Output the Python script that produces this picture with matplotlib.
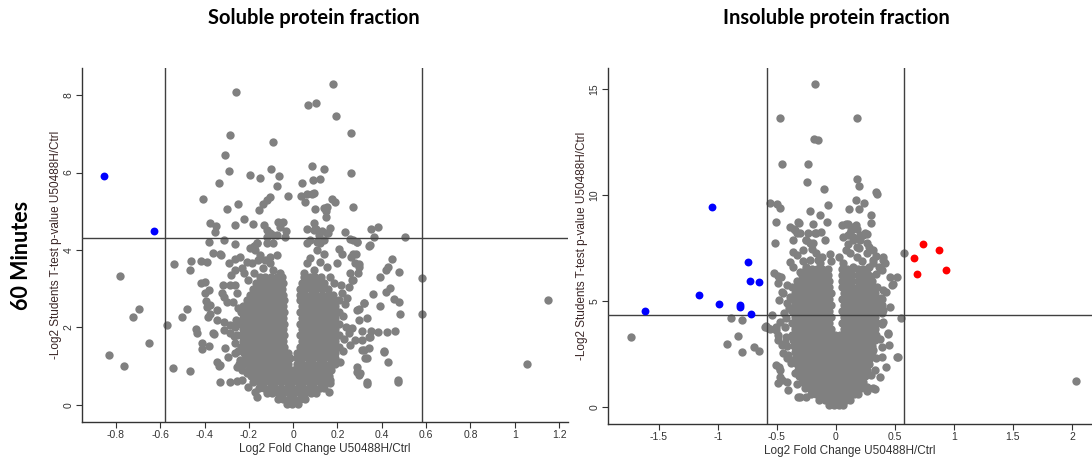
import matplotlib
matplotlib.use("Agg")
import matplotlib.pyplot as plt

# ---------------- data ----------------
# soluble fraction: dense core, rows of (y, x values)
sl_a = [-0.15, -0.125, -0.10, -0.075, -0.05]
sl_b = [-0.17, -0.145, -0.12, -0.095, -0.07, -0.045]
sl_c = [-0.18, -0.155, -0.13, -0.105, -0.08, -0.05]
sl_d = [-0.195, -0.17, -0.145, -0.12, -0.095, -0.07, -0.045]
sl_e = [-0.21, -0.185, -0.16, -0.135, -0.11, -0.085, -0.06, -0.04]
sl_f = [-0.225, -0.2, -0.175, -0.15, -0.125, -0.1, -0.075, -0.045]
sl_g = [-0.235, -0.21, -0.185, -0.16, -0.135, -0.11, -0.085, -0.06, -0.04]
sl_h = [-0.22, -0.195, -0.17, -0.145, -0.12, -0.095, -0.07, -0.045, -0.025]
sl_i = [-0.215, -0.19, -0.165, -0.14, -0.115, -0.09, -0.065, -0.04, -0.015]
sr_a = [0.05, 0.075, 0.10, 0.125]
sr_b = [0.04, 0.065, 0.09, 0.115, 0.14]
sr_c = [0.03, 0.055, 0.08, 0.105, 0.13, 0.155]
sr_d = [0.03, 0.055, 0.08, 0.105, 0.13, 0.155, 0.18]
sr_e = [0.03, 0.055, 0.08, 0.105, 0.13, 0.155, 0.18, 0.205]
sr_f = [0.04, 0.065, 0.09, 0.115, 0.14, 0.165, 0.19]
sr_g = [0.015, 0.04, 0.065, 0.09, 0.115, 0.14, 0.165, 0.19]
sm_a = [-0.2, -0.175, -0.15, -0.125, -0.1, -0.075, -0.05, -0.025, 0.0, 0.025, 0.05, 0.075, 0.1, 0.125, 0.15, 0.17]
sm_b = [-0.19, -0.165, -0.14, -0.115, -0.09, -0.065, -0.04, -0.015, 0.01, 0.035, 0.06, 0.085, 0.11, 0.135, 0.16]
sm_c = [-0.18, -0.155, -0.13, -0.105, -0.08, -0.055, -0.03, -0.005, 0.02, 0.045, 0.07, 0.095, 0.12, 0.145]
sm_d = [-0.155, -0.13, -0.105, -0.08, -0.055, -0.03, -0.005, 0.02, 0.045, 0.07, 0.095, 0.12, 0.14]
sm_e = [-0.12, -0.095, -0.07, -0.045, -0.02, 0.005, 0.03, 0.055, 0.08, 0.105]
sm_f = [-0.07, -0.045, -0.02, 0.005, 0.03, 0.055]
sm_g = [-0.03, -0.005, 0.02]

soluble_core = [
    (3.30, sl_a + sr_a), (3.15, sl_b + sr_b), (3.00, sl_c + sr_c), (2.85, sl_d + sr_d),
    (2.70, sl_e + sr_e), (2.55, sl_f + sr_f), (2.40, sl_g + sr_e), (2.25, sl_f + sr_f),
    (2.10, sl_g + sr_e), (1.95, sl_f + sr_f), (1.80, sl_g + sr_e), (1.65, sl_f + sr_f),
    (1.50, sl_g + sr_e), (1.35, sl_h + sr_g), (1.20, sl_i + sr_g), (1.05, sl_h + sr_g),
    (0.90, sm_a), (0.75, sm_b), (0.60, sm_c), (0.45, sm_d), (0.30, sm_e), (0.15, sm_f), (0.03, sm_g),
]

soluble_grey = [
    (-0.256, 8.07), (0.181, 8.29), (0.068, 7.75), (0.102, 7.80), (0.194, 7.45), (0.259, 7.03), (-0.286, 6.98),
    (-0.093, 6.78), (-0.307, 6.45), (-0.290, 6.03), (-0.333, 5.73), (-0.408, 5.33), (-0.194, 5.93), (-0.152, 5.87),
    (-0.098, 6.08), (-0.063, 5.90), (-0.072, 5.65), (-0.024, 5.40), (0.086, 6.18), (0.137, 6.10), (0.089, 5.81),
    (0.119, 5.83), (0.042, 5.73), (0.259, 5.98), (0.035, 5.40), (0.062, 5.44), (0.084, 5.45), (0.092, 5.46),
    (0.054, 5.25), (0.176, 5.31), (0.187, 5.25), (-0.298, 5.06), (-0.251, 5.18), (-0.155, 5.03), (-0.134, 5.20),
    (-0.119, 5.29), (-0.104, 5.36), (0.098, 5.06), (0.137, 5.09), (0.152, 5.12), (0.149, 5.01), (0.146, 4.86),
    (0.272, 5.11), (-0.220, 4.81), (-0.376, 4.71), (-0.349, 4.62), (-0.352, 4.46), (-0.263, 4.64), (-0.181, 4.68),
    (-0.132, 4.65), (-0.119, 4.52), (-0.104, 4.43), (-0.089, 4.39), (-0.074, 4.38), (-0.068, 4.73), (-0.048, 4.72),
    (-0.059, 4.60), (-0.033, 4.50), (0.062, 4.53), (0.096, 4.69), (0.102, 4.53), (0.132, 4.49), (0.164, 4.57),
    (0.158, 4.43), (0.233, 4.46), (0.351, 4.53), (0.381, 4.59), (0.363, 4.34), (0.504, 4.33), (-0.381, 4.21),
    (-0.311, 4.26), (-0.263, 4.16), (-0.179, 4.10), (-0.164, 4.17), (-0.119, 4.19), (-0.089, 4.17), (0.077, 4.26),
    (0.107, 4.21), (0.122, 4.17), (0.257, 4.28), (0.288, 4.21), (0.343, 4.11),
    (-0.781, 3.33), (-0.695, 2.49), (-0.721, 2.26), (-0.652, 1.59), (-0.831, 1.29), (-0.762, 1.00), (-0.569, 2.06),
    (-0.543, 0.95), (-0.465, 0.87), (-0.536, 3.64), (-0.462, 3.71), (-0.465, 3.48), (-0.418, 3.71), (-0.390, 3.69),
    (-0.415, 3.16), (-0.397, 3.17), (-0.378, 2.96), (-0.480, 2.47), (-0.500, 2.26), (-0.438, 1.97), (-0.435, 1.85),
    (-0.411, 1.59), (-0.411, 1.45), (-0.378, 1.51), (-0.360, 1.87), (-0.330, 3.91), (-0.397, 2.88), (-0.390, 2.54),
    (-0.375, 2.36), (-0.336, 1.00), (-0.330, 0.58), (-0.284, 0.58),
    (0.581, 3.29), (0.580, 2.34), (1.148, 2.72), (1.054, 1.07), (0.445, 3.76), (0.426, 3.55), (0.420, 3.48),
    (0.477, 3.44), (0.393, 3.31), (0.435, 3.01), (0.417, 2.92), (0.360, 2.86), (0.390, 2.55), (0.453, 2.73),
    (0.477, 2.67), (0.480, 2.36), (0.321, 2.64), (0.297, 2.49), (0.460, 1.92), (0.423, 1.89), (0.385, 1.89),
    (0.352, 1.92), (0.340, 1.76), (0.411, 1.39), (0.429, 1.12), (0.334, 1.21), (0.340, 1.46), (0.309, 1.42),
    (0.290, 0.86), (0.297, 0.77), (0.334, 0.53), (0.471, 0.58), (0.163, 0.34), (0.167, 0.56), (0.298, 3.65),
    (0.283, 3.91), (0.262, 3.83), (0.208, 4.02), (0.221, 3.91), (0.348, 4.12), (0.290, 4.22), (0.269, 4.27),
    (0.292, 3.40), (0.264, 3.23), (0.253, 3.05),
    (-0.360, 3.93), (-0.325, 3.86), (-0.288, 3.66), (-0.262, 3.76), (-0.239, 3.83), (-0.209, 3.70), (-0.186, 3.66),
    (-0.161, 3.74), (-0.281, 3.35), (-0.262, 3.48), (-0.232, 3.53), (-0.224, 3.40), (-0.315, 3.10), (-0.285, 3.10),
    (-0.262, 3.10), (-0.392, 2.68), (-0.374, 2.58), (-0.344, 2.45), (-0.322, 2.88), (-0.314, 2.80), (-0.299, 2.67),
    (-0.385, 2.28), (-0.344, 2.19), (-0.314, 2.15), (-0.284, 2.06), (-0.262, 2.02), (-0.356, 1.83), (-0.314, 1.94),
    (-0.284, 1.85), (-0.269, 1.77), (-0.262, 1.59), (-0.307, 1.46), (-0.344, 1.12), (-0.329, 1.03), (-0.292, 1.25),
    (-0.262, 1.33), (-0.239, 1.16), (-0.254, 0.99), (-0.232, 0.90), (-0.209, 0.82), (-0.254, 0.63), (-0.232, 0.65),
    (-0.202, 0.47), (-0.172, 0.34), (-0.164, 0.21),
    (-0.164, 4.17), (-0.172, 4.00), (-0.149, 3.87), (-0.126, 3.74), (-0.104, 3.83), (-0.074, 3.87), (-0.104, 3.66),
    (-0.134, 3.53), (-0.089, 3.48), (-0.059, 3.40), (-0.194, 4.04), (-0.119, 4.34), (-0.036, 4.34), (-0.179, 3.40),
    (-0.202, 3.23), (0.092, 4.52), (0.115, 4.39), (0.137, 4.26), (0.152, 4.43), (0.062, 4.17), (0.107, 4.00),
    (0.137, 3.91), (0.077, 3.79), (0.122, 3.70), (0.152, 3.57), (0.092, 3.48), (0.062, 3.66), (0.167, 3.31),
    (0.197, 3.66), (0.182, 3.14), (0.047, 3.40),
    (0.269, 3.90), (0.280, 3.66), (0.295, 3.57), (0.257, 3.41), (0.272, 3.23), (0.318, 2.62), (0.288, 2.45),
    (0.295, 2.19), (0.333, 2.24), (0.265, 1.99), (0.310, 1.92), (0.348, 1.75), (0.310, 1.67), (0.280, 1.67),
    (0.257, 1.55), (0.318, 1.42), (0.325, 1.20), (0.408, 1.38), (0.288, 0.99), (0.303, 0.82), (0.333, 0.60),
    (0.474, 0.64), (0.167, 0.64),
    (0.22, 2.9), (0.235, 2.6), (0.225, 2.3), (0.24, 2.0), (0.23, 1.7), (0.225, 1.4), (0.21, 1.1), (0.245, 2.75),
    (0.25, 1.85), (0.215, 3.1), (-0.255, 2.9), (-0.25, 2.5), (-0.26, 2.2), (-0.255, 1.8), (-0.25, 1.4),
    (-0.245, 1.05), (-0.27, 2.65),
]
soluble_down = [(-0.852, 5.90), (-0.630, 4.48)]

# insoluble fraction: dense core rows
il_a = [-0.25, -0.205, -0.16, -0.115, -0.07]
il_b = [-0.29, -0.245, -0.2, -0.155, -0.11, -0.065]
il_c = [-0.33, -0.285, -0.24, -0.195, -0.15, -0.105, -0.06]
il_d = [-0.37, -0.325, -0.28, -0.235, -0.19, -0.145, -0.1, -0.055]
il_e = [-0.35, -0.305, -0.26, -0.215, -0.17, -0.125, -0.08, -0.045]
ir_a = [0.05, 0.095, 0.14, 0.185, 0.23, 0.26]
ir_b = [0.05, 0.095, 0.14, 0.185, 0.23, 0.275]
ir_c = [0.05, 0.095, 0.14, 0.185, 0.23, 0.275, 0.31]
ir_d = [0.05, 0.095, 0.14, 0.185, 0.23, 0.275, 0.32, 0.35]
ir_e = [0.07, 0.115, 0.16, 0.205, 0.25, 0.295, 0.335]

insoluble_core = [
    (6.50, il_a + ir_a), (6.22, il_b + ir_b), (5.94, il_c + ir_c), (5.66, il_d + ir_d),
    (5.38, il_e + ir_e), (5.10, il_d + ir_d), (4.82, il_e + ir_e), (4.54, il_d + ir_d),
    (4.26, il_e + ir_e), (3.98, il_d + ir_d), (3.70, il_e + ir_e),
    (3.42, [-0.37, -0.325, -0.28, -0.235, -0.19, -0.145, -0.1, -0.055, -0.01, 0.035, 0.08, 0.125, 0.17, 0.215, 0.26, 0.305, 0.34]),
    (3.14, [-0.36, -0.315, -0.27, -0.225, -0.18, -0.135, -0.09, -0.045, 0.0, 0.045, 0.09, 0.135, 0.18, 0.225, 0.27, 0.315, 0.335]),
    (2.86, [-0.355, -0.31, -0.265, -0.22, -0.175, -0.13, -0.085, -0.04, 0.005, 0.05, 0.095, 0.14, 0.185, 0.23, 0.275, 0.31]),
    (2.58, [-0.35, -0.305, -0.26, -0.215, -0.17, -0.125, -0.08, -0.035, 0.01, 0.055, 0.1, 0.145, 0.19, 0.235, 0.28, 0.305]),
    (2.30, [-0.34, -0.295, -0.25, -0.205, -0.16, -0.115, -0.07, -0.025, 0.02, 0.065, 0.11, 0.155, 0.2, 0.245, 0.29]),
    (2.02, [-0.33, -0.285, -0.24, -0.195, -0.15, -0.105, -0.06, -0.015, 0.03, 0.075, 0.12, 0.165, 0.21, 0.255, 0.28]),
    (1.74, [-0.32, -0.275, -0.23, -0.185, -0.14, -0.095, -0.05, -0.005, 0.04, 0.085, 0.13, 0.175, 0.22, 0.26]),
    (1.46, [-0.31, -0.265, -0.22, -0.175, -0.13, -0.085, -0.04, 0.005, 0.05, 0.095, 0.14, 0.185, 0.23, 0.25]),
    (1.18, [-0.29, -0.245, -0.2, -0.155, -0.11, -0.065, -0.02, 0.025, 0.07, 0.115, 0.16, 0.205, 0.23]),
    (0.90, [-0.26, -0.215, -0.17, -0.125, -0.08, -0.035, 0.01, 0.055, 0.1, 0.145, 0.19, 0.21]),
    (0.62, [-0.21, -0.165, -0.12, -0.075, -0.03, 0.015, 0.06, 0.105, 0.15, 0.19]),
    (0.34, [-0.14, -0.095, -0.05, -0.005, 0.04, 0.085, 0.12]),
    (0.08, [-0.06, -0.015, 0.03, 0.06]),
]

insoluble_grey = [
    (-1.735, 3.30), (-0.887, 4.21), (-0.791, 4.12), (-0.831, 3.33), (-0.918, 2.97), (-0.797, 2.59), (-0.692, 2.81),
    (-0.650, 2.66), (-0.593, 3.84), (-0.554, 3.69), (-0.542, 4.35), (-0.469, 13.65), (-0.455, 11.45), (-0.554, 9.61),
    (-0.497, 9.58), (-0.475, 9.37), (-0.503, 8.74), (-0.514, 7.72), (-0.523, 6.31), (-0.489, 6.18), (-0.464, 6.12),
    (-0.489, 5.83), (-0.460, 5.44), (-0.480, 5.05), (-0.390, 8.51), (-0.347, 8.35), (-0.322, 8.74), (-0.367, 7.88),
    (-0.362, 7.33), (-0.390, 6.85), (-0.418, 4.89), (-0.390, 4.66), (-0.441, 4.42), (-0.475, 4.02), (-0.508, 3.79),
    (-0.489, 3.40), (-0.503, 1.98), (-0.460, 1.27), (-0.305, 0.49), (-0.249, 0.49), (-0.404, 2.45), (-0.362, 2.22),
    (-0.475, 1.75),
    (-0.178, 15.24), (-0.237, 11.49), (-0.189, 12.64), (-0.155, 12.59), (-0.243, 10.63), (-0.099, 10.27),
    (-0.215, 9.26), (-0.136, 9.06), (-0.192, 8.66), (-0.164, 8.19), (-0.249, 7.88), (-0.220, 7.72),
    (0.175, 13.62), (0.175, 10.74), (0.192, 10.42), (0.336, 10.16), (0.345, 10.05), (-0.065, 9.53), (-0.074, 8.74),
    (0.172, 9.76), (0.237, 9.61), (0.113, 9.34), (0.197, 9.34), (0.297, 9.06), (0.297, 8.69), (-0.314, 8.69),
    (-0.356, 8.38), (-0.325, 8.19), (0.048, 8.58), (0.105, 8.63), (0.169, 8.58), (0.175, 8.38), (0.119, 8.19),
    (0.232, 8.11), (0.260, 8.16), (-0.234, 8.19), (-0.178, 8.19), (-0.122, 8.27),
    (0.090, 8.63), (0.147, 8.51), (0.125, 8.35), (0.102, 8.11), (0.147, 8.03), (0.203, 7.88), (0.175, 7.56),
    (0.282, 7.56), (0.339, 7.14), (0.401, 7.09), (0.316, 6.93), (0.415, 6.78), (0.367, 6.62), (0.458, 6.15),
    (0.514, 6.15), (0.480, 5.80), (0.429, 5.44), (0.381, 5.13), (0.387, 4.81), (0.458, 4.73), (0.551, 4.18),
    (0.401, 4.02), (0.443, 3.44), (0.452, 2.92), (0.387, 2.84), (0.514, 2.37), (0.528, 2.37), (0.424, 1.90),
    (0.373, 1.43), (0.331, 0.85), (0.576, 7.28), (2.034, 1.24),
    (-0.395, 4.65), (-0.412, 5.75), (-0.446, 5.36), (-0.305, 5.60), (-0.333, 4.97), (-0.390, 5.20), (-0.602, 3.79),
    (-0.573, 3.71), (-0.508, 3.63), (-0.489, 3.16), (-0.460, 2.92), (-0.446, 2.53), (-0.412, 2.30), (-0.483, 1.90),
    (-0.475, 1.43), (-0.418, 1.20), (-0.489, 1.12), (-0.319, 0.49), (-0.403, 0.80),
    (0.472, 5.75), (0.387, 5.12), (0.373, 4.81), (0.387, 4.42), (0.444, 3.47), (0.387, 2.37), (0.316, 2.68),
    (0.331, 1.74), (0.316, 0.88), (0.260, 0.96),
    (-0.305, 8.19), (-0.249, 7.88), (-0.192, 7.72), (-0.277, 7.40), (-0.164, 7.25), (-0.220, 6.93), (-0.136, 6.78),
    (-0.093, 7.88), (-0.079, 6.46), (-0.333, 7.17), (-0.362, 6.62), (0.062, 8.03), (0.147, 7.88), (0.203, 8.11),
    (0.246, 8.19), (0.090, 7.40), (0.175, 7.09), (0.260, 7.25), (0.316, 6.78), (0.387, 6.46), (0.147, 6.62),
    (0.062, 6.78), (0.260, 7.72), (0.316, 7.40), (0.401, 6.93),
    (-0.12, 7.1), (-0.2, 7.45), (-0.28, 6.9), (-0.15, 6.95), (-0.05, 7.2), (-0.04, 6.9), (0.03, 7.1), (0.12, 7.25),
    (0.22, 6.9), (0.28, 6.6), (0.2, 7.5), (0.1, 7.7), (-0.25, 6.6), (-0.3, 6.35), (0.34, 6.3), (0.29, 6.2),
    (-0.42, 4.2), (-0.43, 3.8), (-0.42, 3.3), (-0.41, 2.9), (-0.38, 2.1), (-0.35, 1.6), (-0.33, 1.1), (-0.43, 3.0),
    (0.40, 5.5), (0.40, 4.6), (0.39, 3.9), (0.37, 3.2), (0.34, 2.3), (0.30, 1.5), (0.26, 0.75),
]
insoluble_down = [(-1.051, 9.42), (-0.748, 6.83), (-0.729, 5.94), (-0.655, 5.91), (-1.158, 5.27),
                  (-0.986, 4.84), (-0.814, 4.80), (-0.814, 4.70), (-0.715, 4.39), (-1.616, 4.55)]
insoluble_up = [(0.740, 7.69), (0.875, 7.41), (0.664, 7.04), (0.935, 6.46), (0.689, 6.29)]

fc_cut = 0.58
p_cut = 4.32
titles = ["Soluble protein fraction", "Insoluble protein fraction"]
xlabel = "Log2 Fold Change U50488H/Ctrl"
ylabel = "-Log2 Students T-test p-value U50488H/Ctrl"
row_label = "60 Minutes"

# ---------------- plotting ----------------
plt.rcParams["font.family"] = ["Liberation Sans", "DejaVu Sans"]

fig = plt.figure(figsize=(10.92, 4.59), dpi=100)
ax1 = fig.add_axes([0.0751, 0.0806, 0.4450, 0.7713])
ax2 = fig.add_axes([0.5568, 0.0763, 0.4432, 0.7756])

grey = "#808080"
ink = "#333333"
msize = 36


def unpack(rows):
    xs, ys = [], []
    for y, row in rows:
        xs += row
        ys += [y] * len(row)
    return xs, ys


def draw(ax, core, grey_pts, down, up, xlim, ylim, xticks, xticklabels, yticks):
    cx, cy = unpack(core)
    ax.scatter(cx, cy, s=msize, color=grey, linewidths=0, zorder=2)
    ax.scatter([p[0] for p in grey_pts], [p[1] for p in grey_pts], s=msize, color=grey, linewidths=0, zorder=2)
    if down:
        ax.scatter([p[0] for p in down], [p[1] for p in down], s=32, color="#0000ff", linewidths=0, zorder=4)
    if up:
        ax.scatter([p[0] for p in up], [p[1] for p in up], s=32, color="#ff0000", linewidths=0, zorder=4)
    ax.axvline(-fc_cut, color="#404040", lw=1.0, zorder=3)
    ax.axvline(fc_cut, color="#404040", lw=1.0, zorder=3)
    ax.axhline(p_cut, color="#404040", lw=1.0, zorder=3)
    ax.set_xlim(*xlim)
    ax.set_ylim(*ylim)
    ax.set_xticks(xticks)
    ax.set_xticklabels(xticklabels)
    ax.set_yticks(yticks)
    ax.set_yticklabels([str(t) for t in yticks], rotation=90, va="center")
    for side in ["top", "right"]:
        ax.spines[side].set_visible(False)
    for side in ["left", "bottom"]:
        ax.spines[side].set_color(ink)
        ax.spines[side].set_linewidth(1.0)
    ax.tick_params(colors=ink, labelsize=7.5, length=4, width=0.8, pad=2)
    ax.set_xlabel(xlabel, fontsize=8.5, color=ink, labelpad=2)
    ax.set_ylabel(ylabel, fontsize=8.5, color="#3a2626", labelpad=1)


draw(ax1, soluble_core, soluble_grey, soluble_down, None,
     (-0.953, 1.24), (-0.44, 8.7),
     [-0.8, -0.6, -0.4, -0.2, 0, 0.2, 0.4, 0.6, 0.8, 1, 1.2],
     ["-0.8", "-0.6", "-0.4", "-0.2", "0", "0.2", "0.4", "0.6", "0.8", "1", "1.2"],
     [0, 2, 4, 6, 8])
draw(ax2, insoluble_core, insoluble_grey, insoluble_down, insoluble_up,
     (-1.93, 2.17), (-0.8, 16.0),
     [-1.5, -1, -0.5, 0, 0.5, 1, 1.5, 2],
     ["-1.5", "-1", "-0.5", "0", "0.5", "1", "1.5", "2"],
     [0, 5, 10, 15])

fig.text(0.2875, 0.961, titles[0], ha="center", va="center", fontsize=14.5,
         fontweight="bold", family=["Lato", "DejaVu Sans"])
fig.text(0.7656, 0.961, titles[1], ha="center", va="center", fontsize=14.5,
         fontweight="bold", family=["Lato", "DejaVu Sans"])
fig.text(0.020, 0.444, row_label, ha="center", va="center", rotation=90, fontsize=15.5,
         fontweight="bold", family=["Lato", "DejaVu Sans"])

fig.savefig("out.png", dpi=100)
